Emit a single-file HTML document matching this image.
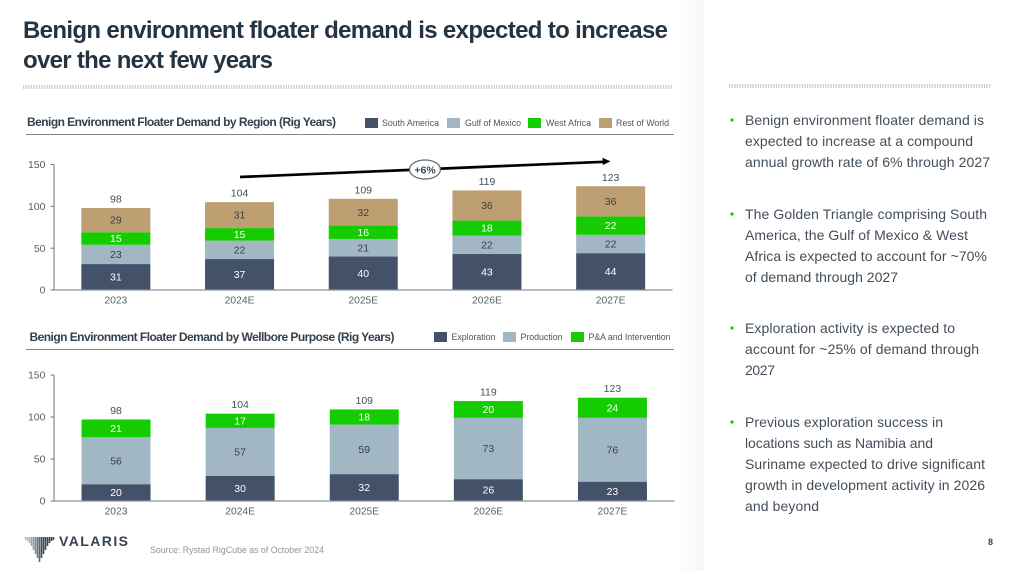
<!DOCTYPE html>
<html lang="en">
<head>
<meta charset="utf-8">
<title>Benign environment floater demand</title>
<style>
html,body{margin:0;padding:0;background:#fff;}
body{width:1024px;height:571px;overflow:hidden;}
svg{display:block;font-family:"Liberation Sans",sans-serif;}
</style>
</head>
<body>
<svg id="slide" width="1024" height="571" viewBox="0 0 1024 571" xmlns="http://www.w3.org/2000/svg">
  <defs>
    <linearGradient id="gutter" x1="0" x2="1" y1="0" y2="0">
      <stop offset="0" stop-color="#ffffff"/>
      <stop offset="1" stop-color="#f5f6f7"/>
    </linearGradient>
  </defs>
  <rect width="1024" height="571" fill="#fff"/>
  <rect x="676" width="28" height="571" fill="url(#gutter)"/>

  <g font-size="24" font-weight="700" fill="#263442">
    <text x="23" y="38" textLength="645" lengthAdjust="spacing">Benign environment floater demand is expected to increase</text>
    <text x="23" y="68" textLength="250" lengthAdjust="spacing">over the next few years</text>
  </g>
  <line x1="23" x2="672" y1="87" y2="87" stroke="#ccd0d3" stroke-width="4" stroke-dasharray="1.3 1.3"/>
  <line x1="729" x2="991" y1="86" y2="86" stroke="#ccd0d3" stroke-width="4" stroke-dasharray="1.3 1.3"/>

  <g>
    <text x="27" y="126" font-size="12" font-weight="700" fill="#35414d" textLength="309" lengthAdjust="spacing">Benign Environment Floater Demand by Region (Rig Years)</text>
    <line x1="26" x2="674" y1="134.5" y2="134.5" stroke="#7d8791" stroke-width="1"/>
  </g>
  <g font-size="8.8" fill="#4a5560">
    <rect x="365" y="118" width="13" height="10" fill="#435268"/>
    <text x="382" y="126" textLength="57" lengthAdjust="spacing">South America</text>
    <rect x="447" y="118" width="13" height="10" fill="#a1b8c4"/>
    <text x="465" y="126" textLength="56" lengthAdjust="spacing">Gulf of Mexico</text>
    <rect x="528" y="118" width="13" height="10" fill="#14cc00"/>
    <text x="546" y="126" textLength="45" lengthAdjust="spacing">West Africa</text>
    <rect x="599" y="118" width="13" height="10" fill="#bd9f72"/>
    <text x="616" y="126" textLength="53" lengthAdjust="spacing">Rest of World</text>
  </g>

  <g>
    <text x="29.5" y="341" font-size="12" font-weight="700" fill="#35414d" textLength="365" lengthAdjust="spacing">Benign Environment Floater Demand by Wellbore Purpose (Rig Years)</text>
    <line x1="26" x2="674" y1="349.5" y2="349.5" stroke="#7d8791" stroke-width="1"/>
  </g>
  <g font-size="8.8" fill="#4a5560">
    <rect x="434" y="332" width="13" height="10" fill="#435268"/>
    <text x="451.5" y="340" textLength="44" lengthAdjust="spacing">Exploration</text>
    <rect x="503" y="332" width="13" height="10" fill="#a1b8c4"/>
    <text x="520.5" y="340" textLength="42" lengthAdjust="spacing">Production</text>
    <rect x="571" y="332" width="13" height="10" fill="#14cc00"/>
    <text x="588.5" y="340" textLength="82" lengthAdjust="spacing">P&amp;A and Intervention</text>
  </g>

  <g id="chart-region"></g>
  <g id="chart-wellbore"></g>

  <g>
    <line x1="240" y1="177" x2="604" y2="161.8" stroke="#000" stroke-width="2.7"/>
    <polygon points="610.5,161.4 602.5,157.8 602.8,165" fill="#000"/>
    <ellipse cx="425" cy="169.5" rx="15.5" ry="9.5" fill="#fff" stroke="#5d6873" stroke-width="1.2"/>
    <text x="425" y="173.3" font-size="10.5" font-weight="700" text-anchor="middle" fill="#3c4854">+6%</text>
  </g>

  <g font-size="14" fill="#424e5a">
    <g>
      <circle cx="732" cy="120" r="1.6" fill="#14cc00"/>
      <text x="745" y="125" textLength="239" lengthAdjust="spacing">Benign environment floater demand is</text>
      <text x="745" y="146" textLength="228" lengthAdjust="spacing">expected to increase at a compound</text>
      <text x="745" y="167" textLength="245" lengthAdjust="spacing">annual growth rate of 6% through 2027</text>
    </g>
    <g>
      <circle cx="732" cy="214" r="1.6" fill="#14cc00"/>
      <text x="745" y="219" textLength="242" lengthAdjust="spacing">The Golden Triangle comprising South</text>
      <text x="745" y="240" textLength="223" lengthAdjust="spacing">America, the Gulf of Mexico &amp; West</text>
      <text x="745" y="261" textLength="242" lengthAdjust="spacing">Africa is expected to account for ~70%</text>
      <text x="745" y="282" textLength="153" lengthAdjust="spacing">of demand through 2027</text>
    </g>
    <g>
      <circle cx="732" cy="328" r="1.6" fill="#14cc00"/>
      <text x="745" y="333" textLength="210" lengthAdjust="spacing">Exploration activity is expected to</text>
      <text x="745" y="354" textLength="234" lengthAdjust="spacing">account for ~25% of demand through</text>
      <text x="745" y="375" textLength="30" lengthAdjust="spacing">2027</text>
    </g>
    <g>
      <circle cx="732" cy="422" r="1.6" fill="#14cc00"/>
      <text x="745" y="427" textLength="198" lengthAdjust="spacing">Previous exploration success in</text>
      <text x="745" y="448" textLength="188" lengthAdjust="spacing">locations such as Namibia and</text>
      <text x="745" y="469" textLength="240" lengthAdjust="spacing">Suriname expected to drive significant</text>
      <text x="745" y="490" textLength="240" lengthAdjust="spacing">growth in development activity in 2026</text>
      <text x="745" y="511" textLength="74" lengthAdjust="spacing">and beyond</text>
    </g>
  </g>

  <g>
    <g stroke-width="1.6">
      <line x1="25.5" x2="25.5" y1="537" y2="540" stroke="#b9c0c6"/>
      <line x1="27.5" x2="27.5" y1="537" y2="541" stroke="#b3bac1"/>
      <line x1="29.5" x2="29.5" y1="537" y2="543" stroke="#a9b2b9"/>
      <line x1="31.5" x2="31.5" y1="537" y2="546" stroke="#9aa4ad"/>
      <line x1="33.5" x2="33.5" y1="537" y2="550" stroke="#8d98a2"/>
      <line x1="35.5" x2="35.5" y1="537" y2="554" stroke="#7a8692"/>
      <line x1="37.5" x2="37.5" y1="537" y2="558" stroke="#66737f"/>
      <line x1="39.5" x2="39.5" y1="537" y2="562" stroke="#566370"/>
      <line x1="41.5" x2="41.5" y1="537" y2="558" stroke="#404d5a"/>
      <line x1="43.5" x2="43.5" y1="537" y2="554" stroke="#3c4856"/>
      <line x1="45.5" x2="45.5" y1="537" y2="550" stroke="#3c4856"/>
      <line x1="47.5" x2="47.5" y1="537" y2="546" stroke="#3c4856"/>
      <line x1="49.5" x2="49.5" y1="537" y2="543" stroke="#3c4856"/>
      <line x1="51.5" x2="51.5" y1="537" y2="541" stroke="#3c4856"/>
      <line x1="53.5" x2="53.5" y1="537" y2="540" stroke="#3c4856"/>
    </g>
    <text x="59" y="546" font-size="14" font-weight="700" fill="#36424f" textLength="69" lengthAdjust="spacing">VALARIS</text>
  </g>
  <text x="150" y="553" font-size="8.8" fill="#8f969c" textLength="174" lengthAdjust="spacing">Source: Rystad RigCube as of October 2024</text>
  <text x="988" y="545" font-size="9" font-weight="700" fill="#36424f">8</text>
</svg>

<script>
var tickLabels = [0, 50, 100, 150];
var categoriesRegion = ['2023', '2024E', '2025E', '2026E', '2027E'];
var southAmerica = [31, 37, 40, 43, 44];
var gulfOfMexico = [23, 22, 21, 22, 22];
var westAfrica = [15, 15, 16, 18, 22];
var restOfWorld = [29, 31, 32, 36, 36];
var totalsRegion = [98, 104, 109, 119, 123];

var categoriesWellbore = ['2023', '2024E', '2025E', '2026E', '2027E'];
var exploration = [20, 30, 32, 26, 23];
var production = [56, 57, 59, 73, 76];
var paIntervention = [21, 17, 18, 20, 24];
var totalsWellbore = [98, 104, 109, 119, 123];

var SVGNS = 'http://www.w3.org/2000/svg';
function mk(parent, tag, attrs, txt) {
  var el = document.createElementNS(SVGNS, tag);
  for (var k in attrs) el.setAttribute(k, attrs[k]);
  if (txt !== undefined) el.textContent = txt;
  parent.appendChild(el);
  return el;
}
function drawChart(rootId, cfg) {
  var root = document.getElementById(rootId);
  var maxV = tickLabels[tickLabels.length - 1];
  function y(v) { return cfg.y0 - (v / maxV) * (cfg.y0 - cfg.yTop); }
  function x(i) { return cfg.xStart + (i + 0.5) * (cfg.xEnd - cfg.xStart) / cfg.categories.length; }
  var barW = 69;

  cfg.categories.forEach(function (cat, i) {
    var base = 0;
    cfg.series.forEach(function (s) {
      var v = s.values[i];
      var top = y(base + v), bot = y(base);
      var r = mk(root, 'rect', { x: x(i) - barW / 2, y: top, width: barW, height: bot - top, fill: s.color });
      
      
      var t = mk(root, 'text', { x: x(i), y: (top + bot) / 2 + 3.6, 'font-size': 10.5, 'text-anchor': 'middle', fill: s.labelColor }, String(v));
      
      
      base += v;
    });
    var total = mk(root, 'text', { x: x(i), y: y(base) - 5.5, 'font-size': 10.5, 'text-anchor': 'middle', fill: '#434f5b' }, String(cfg.totals[i]));
    
    
    var lab = mk(root, 'text', { x: x(i), y: cfg.y0 + 13.5, 'font-size': 10.3, 'text-anchor': 'middle', fill: '#55606b' }, cat);
    
    
  });

  var xAxis = mk(root, 'line', { x1: cfg.xStart, x2: cfg.xEnd, y1: cfg.y0, y2: cfg.y0, stroke: '#8b939a', 'stroke-width': 1.2 });
  
  
  var yAxis = mk(root, 'line', { x1: cfg.xStart, x2: cfg.xStart, y1: cfg.yTop, y2: cfg.y0, stroke: '#6e7780', 'stroke-width': 1 });
  
  
  tickLabels.forEach(function (v) {
    var tk = mk(root, 'line', { x1: cfg.xStart - 3.5, x2: cfg.xStart, y1: y(v), y2: y(v), stroke: '#6e7780', 'stroke-width': 1 });
    
    
    var tl = mk(root, 'text', { x: cfg.xStart - 8.5, y: y(v) + 3.7, 'font-size': 10.5, 'text-anchor': 'end', fill: '#55606b' }, String(v));
    
    
  });
}

drawChart('chart-region', {
  y0: 290, yTop: 164.5, xStart: 54, xEnd: 672.5,
  categories: categoriesRegion,
  totals: totalsRegion,
  series: [
    { key: 'south-america', values: southAmerica, color: '#435268', labelColor: '#ffffff' },
    { key: 'gulf-of-mexico', values: gulfOfMexico, color: '#a1b8c4', labelColor: '#36424e' },
    { key: 'west-africa', values: westAfrica, color: '#14cc00', labelColor: '#ffffff' },
    { key: 'rest-of-world', values: restOfWorld, color: '#bd9f72', labelColor: '#3b3f42' }
  ]
});
drawChart('chart-wellbore', {
  y0: 501, yTop: 375, xStart: 54, xEnd: 674.5,
  categories: categoriesWellbore,
  totals: totalsWellbore,
  series: [
    { key: 'exploration', values: exploration, color: '#435268', labelColor: '#ffffff' },
    { key: 'production', values: production, color: '#a1b8c4', labelColor: '#36424e' },
    { key: 'pa-intervention', values: paIntervention, color: '#14cc00', labelColor: '#ffffff' }
  ]
});
</script>
</body>
</html>
